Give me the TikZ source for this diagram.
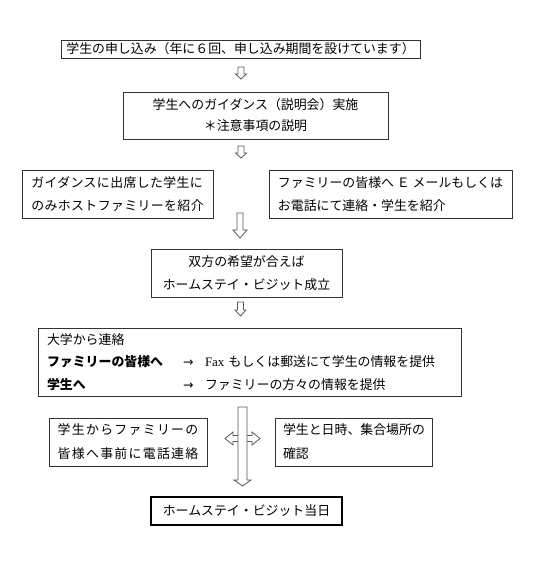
\documentclass[tikz,border=0pt]{standalone}
\usepackage{fontspec}
\setmainfont{Noto Sans CJK JP}
\newfontfamily\serifrm{Liberation Serif}
\newfontfamily\arrowfont{DejaVu Sans}
\begin{document}
\begin{tikzpicture}[x=1pt,y=-1pt,
  box/.style={draw=black!80, line width=0.9pt, inner sep=0pt, align=center,
    font=\fontsize{12.9}{23}\selectfont},
  thickbox/.style={box, line width=2.4pt, draw=black},
  blockarrow/.style={draw=black!65, fill=white, line width=0.8pt, line join=miter}]
\useasboundingbox (0,0) rectangle (533,561);

\newcommand\vdarrow[6]{% cx, ytop, ytip, shafthalf, headhalf, headlen
  \draw[blockarrow] ({#1-#4},#2) -- ({#1+#4},#2) -- ({#1+#4},{#3-#6}) -- ({#1+#5},{#3-#6})
    -- (#1,#3) -- ({#1-#5},{#3-#6}) -- ({#1-#4},{#3-#6}) -- cycle;}
\newcommand\rarr{\makebox[22pt][l]{\arrowfont\fontsize{12.5}{12}\selectfont →}}

% boxes
\node[box, minimum width=359, minimum height=18] (b1) at (240.5,49)
  {学生の申し込み（年に６回、申し込み期間を設けています）};
\node[box, minimum width=265, minimum height=47, font=\fontsize{12.9}{21}\selectfont] (b2) at (255.5,115.5)
  {学生へのガイダンス（説明会）実施\\＊注意事項の説明};
\node[box, minimum width=191, minimum height=48, align=left,
  font=\fontsize{12.9}{23}\selectfont\addfontfeature{LetterSpace=3}] (b3) at (117.5,194)
  {ガイダンスに出席した学生に\\のみホストファミリーを紹介};
\node[box, minimum width=243, minimum height=48, align=left] (b4) at (390.5,194)
  {ファミリーの皆様へ Ｅ メールもしくは\\お電話にて連絡・学生を紹介};
\node[box, minimum width=191, minimum height=48] (b5) at (246.5,273)
  {双方の希望が合えば\\ホームステイ・ビジット成立};
\node[box, minimum width=423, minimum height=68, text width=405, align=left,
  font=\fontsize{12.9}{22.5}\selectfont] (b6) at (249.5,362)
  {大学から連絡\\
   \makebox[136pt][l]{\textbf{ファミリーの皆様へ}}\rarr{\serifrm Fax} もしくは郵送にて学生の情報を提供\\
   \makebox[136pt][l]{\textbf{学生へ}}\rarr ファミリーの方々の情報を提供};
\node[box, minimum width=158, minimum height=48, align=left,
  font=\fontsize{12.9}{24}\selectfont\addfontfeature{LetterSpace=10}] (b7) at (128,442)
  {学生からファミリーの\\皆様へ事前に電話連絡};
\node[box, minimum width=157, minimum height=48, text width=141, align=left,
  font=\fontsize{12.9}{24}\selectfont] (b8) at (353.5,442)
  {学生と日時、集合場所の\\確認};
\node[thickbox, minimum width=191, minimum height=28] (b9) at (246.5,511)
  {ホームステイ・ビジット当日};

% block arrows
\vdarrow{241}{67}{79}{3}{5.5}{5}
\vdarrow{241}{146}{158}{3}{5.5}{5}
\vdarrow{240}{213}{238}{3}{7}{8}
\vdarrow{240.5}{302}{316}{3}{5.5}{6}

% double horizontal arrow (behind the long shaft)
\draw[blockarrow] (242,435.5) -- (233,435.5) -- (233,432) -- (225,438.5) -- (233,445)
  -- (233,441.5) -- (242,441.5);
\draw[blockarrow] (243,435.5) -- (252,435.5) -- (252,432) -- (260,438.5) -- (252,445)
  -- (252,441.5) -- (243,441.5);
\vdarrow{242.5}{407}{486}{4.5}{8.5}{6}
\end{tikzpicture}
\end{document}
